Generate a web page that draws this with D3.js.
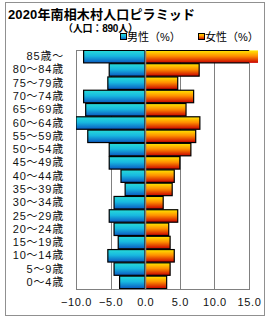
<!DOCTYPE html>
<html>
<head>
<meta charset="utf-8">
<script src="https://cdn.jsdelivr.net/npm/d3@7"></script>
<style>
  body { margin: 0; background: #fff; }
  text { font-family: "Liberation Sans", "Noto Sans CJK JP", sans-serif; }
</style>
</head>
<body>
<svg id="chart" width="270" height="320"></svg>
<script>
// age groups, bottom to top
const ageGroups = ['0～4歳', '5～9歳', '10～14歳', '15～19歳', '20～24歳', '25～29歳',
  '30～34歳', '35～39歳', '40～44歳', '45～49歳', '50～54歳', '55～59歳',
  '60～64歳', '65～69歳', '70～74歳', '75～79歳', '80～84歳', '85歳～'];
// share of population (%)
const maleValues = [3.7, 4.5, 5.4, 3.9, 4.5, 5.2, 4.5, 2.9, 3.5, 5.2, 5.2, 8.3,
  10.0, 8.6, 8.9, 5.4, 5.2, 8.9];
const femaleValues = [3.1, 3.6, 4.2, 3.6, 3.4, 4.7, 2.6, 3.9, 4.2, 5.0, 6.6, 7.3,
  7.9, 5.9, 7.0, 4.7, 7.8, 16.3];
const xTicks = [-10, -5, 0, 5, 10, 15];
const legendLabels = ['男性（%）', '女性（%）'];

const svg = d3.select('#chart');
const margin = { top: 50, right: 21, bottom: 31, left: 76 };
const width = 270 - margin.left - margin.right;
const height = 320 - margin.top - margin.bottom;

// gradients for the bars
const defs = svg.append('defs');
function addGradient(id, stops) {
  const grad = defs.append('linearGradient')
    .attr('id', id)
    .attr('x1', 0).attr('y1', 0).attr('x2', 0).attr('y2', 1);
  stops.forEach(([o, c]) => grad.append('stop').attr('offset', o).attr('stop-color', c));
}
addGradient('male', [[0, '#28dcd8'], [0.45, '#18b8e0'], [1, '#0a58c0']]);
addGradient('female', [[0, '#ffe800'], [0.45, '#ff9000'], [1, '#c80000']]);
defs.append('clipPath').attr('id', 'plotClip')
  .append('rect').attr('width', width).attr('height', height);

// outer frame
svg.append('rect')
  .attr('x', 5.5).attr('y', 2.5).attr('width', 259).attr('height', 313)
  .attr('fill', 'none').attr('stroke', '#909090');

// titles
svg.append('text')
  .attr('x', 8).attr('y', 19)
  .attr('font-size', 13).attr('font-weight', 'bold')
  .attr('textLength', 187).attr('lengthAdjust', 'spacing')
  .text('2020年南相木村人口ピラミッド');
svg.append('text')
  .attr('x', 63).attr('y', 32)
  .attr('font-size', 10).attr('font-weight', 'bold')
  .attr('textLength', 75).attr('lengthAdjust', 'spacing')
  .text('（人口：890人）');

// legend
const legend = svg.append('g').attr('transform', 'translate(120,37)');
legendLabels.forEach((label, i) => {
  const lg = legend.append('g').attr('transform', `translate(${i * 78},0)`);
  lg.append('rect')
    .attr('x', 0.5).attr('y', -3.5).attr('width', 6).attr('height', 6)
    .attr('fill', `url(#${i === 0 ? 'male' : 'female'})`)
    .attr('stroke', '#000');
  lg.append('text')
    .attr('x', 7).attr('y', 4)
    .attr('font-size', 11)
    .text(label);
});

const g = svg.append('g')
  .attr('transform', `translate(${margin.left},${margin.top})`);

const x = d3.scaleLinear().domain([-10, 15]).range([0, width]);
const y = d3.scaleBand().domain(ageGroups).range([height, 0]).paddingInner(0.06).paddingOuter(0.03);

// plot area border + grid
g.append('rect')
  .attr('x', 0.5).attr('y', 0.5).attr('width', width).attr('height', height)
  .attr('fill', '#fff').attr('stroke', '#808080');
g.selectAll('.grid')
  .data(xTicks.slice(1, -1))
  .enter().append('line')
  .attr('class', 'grid')
  .attr('x1', d => Math.round(x(d)) + 0.5).attr('x2', d => Math.round(x(d)) + 0.5)
  .attr('y1', 0).attr('y2', height)
  .attr('stroke', '#808080');

// bars: fill may overflow the plot, outline is clipped to it
const rows = ageGroups.map((a, i) => ({ age: a, male: maleValues[i], female: femaleValues[i] }));
const barFill = g.append('g');
const barLine = g.append('g').attr('clip-path', 'url(#plotClip)');

barFill.selectAll('.male').data(rows).enter().append('rect')
  .attr('class', 'male')
  .attr('x', d => x(-d.male)).attr('y', d => y(d.age))
  .attr('width', d => x(0) - x(-d.male)).attr('height', y.bandwidth())
  .attr('fill', 'url(#male)');
barFill.selectAll('.female').data(rows).enter().append('rect')
  .attr('class', 'female')
  .attr('x', x(0)).attr('y', d => y(d.age))
  .attr('width', d => x(d.female) - x(0)).attr('height', y.bandwidth())
  .attr('fill', 'url(#female)');
barLine.selectAll('.mline').data(rows).enter().append('rect')
  .attr('x', d => x(-d.male)).attr('y', d => y(d.age))
  .attr('width', d => x(0) - x(-d.male)).attr('height', y.bandwidth())
  .attr('fill', 'none').attr('stroke', '#000').attr('stroke-width', 1.2);
barLine.selectAll('.fline').data(rows).enter().append('rect')
  .attr('x', x(0)).attr('y', d => y(d.age))
  .attr('width', d => x(d.female) - x(0)).attr('height', y.bandwidth())
  .attr('fill', 'none').attr('stroke', '#000').attr('stroke-width', 1.2);

// zero line on top of the bars
g.append('line')
  .attr('x1', Math.round(x(0)) + 0.5).attr('x2', Math.round(x(0)) + 0.5)
  .attr('y1', 0).attr('y2', height)
  .attr('stroke', '#808080').attr('stroke-width', 1.5);

// axes (labels only)
const yAxis = g.append('g')
  .call(d3.axisLeft(y).tickSize(0).tickPadding(12));
yAxis.select('.domain').remove();
yAxis.selectAll('text')
  .attr('font-size', 11).attr('fill', '#111')
  .attr('letter-spacing', 0.8)
  .attr('font-family', null);

const xAxis = g.append('g')
  .attr('transform', `translate(0,${height})`)
  .call(d3.axisBottom(x).tickValues(xTicks).tickSize(0).tickPadding(9)
    .tickFormat(d => d3.format('.1f')(d).replace('-', '−')));
xAxis.select('.domain').remove();
xAxis.selectAll('text')
  .attr('font-size', 11).attr('fill', '#111')
  .attr('letter-spacing', 0.6)
  .attr('font-family', null);
</script>
</body>
</html>
